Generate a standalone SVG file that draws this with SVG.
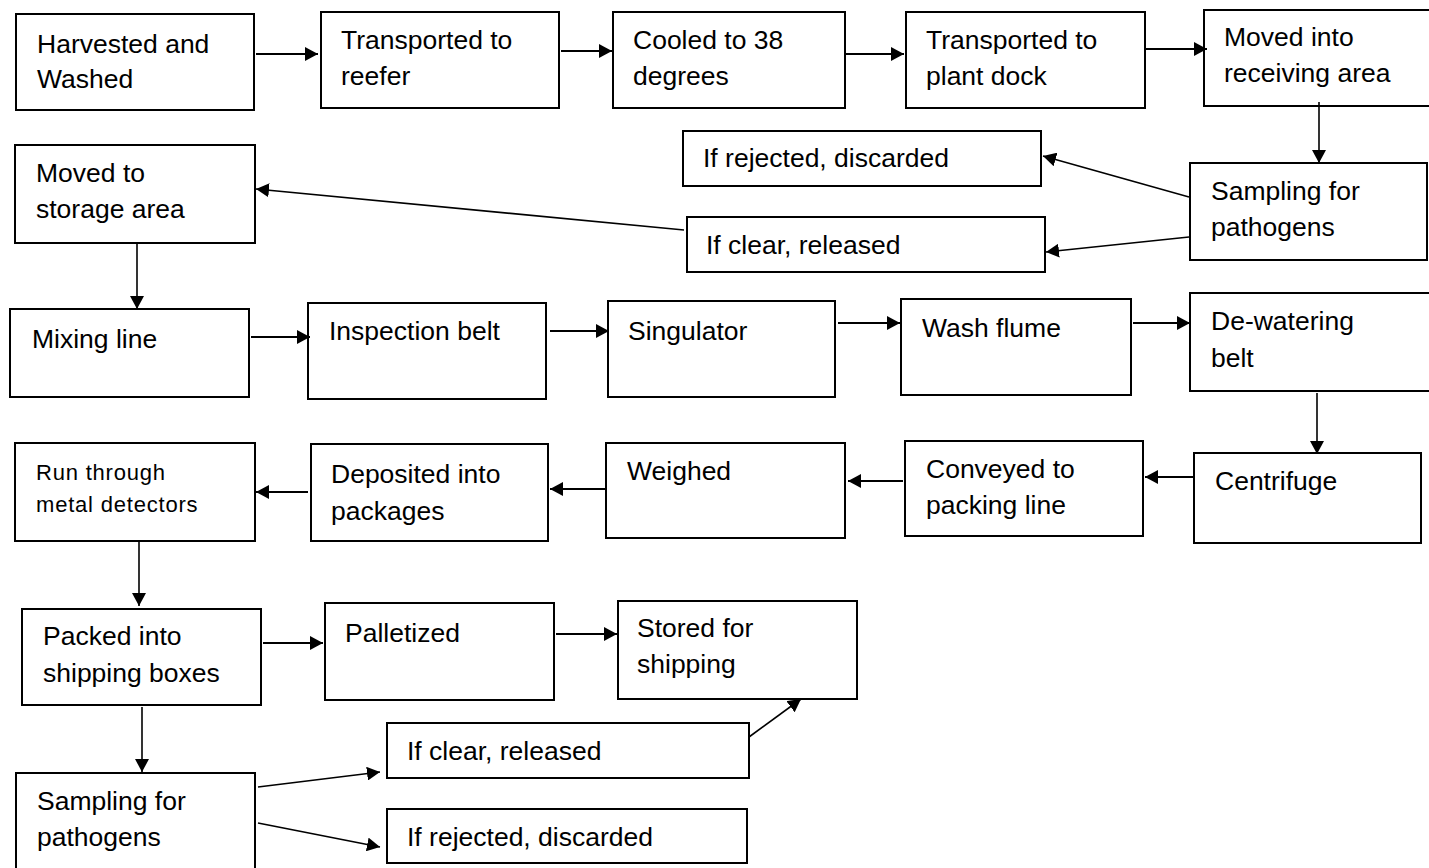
<svg xmlns="http://www.w3.org/2000/svg" width="1429" height="868" viewBox="0 0 1429 868">
<style>
.box{fill:#fff;stroke:#000;stroke-width:2}
.t{font-family:"Liberation Sans",Arial,sans-serif;font-size:26.5px;fill:#000}
.s{font-family:"Liberation Sans",Arial,sans-serif;font-size:22px;letter-spacing:0.8px;fill:#000}
.c{stroke:#000;stroke-width:2;fill:none;marker-end:url(#ah)}
.c2{stroke:#000;stroke-width:1.6;fill:none;marker-end:url(#ah)}
</style>
<defs>
<marker id="ah" markerUnits="userSpaceOnUse" markerWidth="14" markerHeight="14" refX="13" refY="7" orient="auto">
<path d="M0,0 L13,7 L0,14 z" fill="#000"/>
</marker>
</defs>
<rect width="1429" height="868" fill="#fff"/>

<g id="n1"><rect class="box" x="16" y="14" width="238" height="96"/><text class="t" x="37" y="53">Harvested and</text><text class="t" x="37" y="88">Washed</text></g>
<g id="n2"><rect class="box" x="321" y="12" width="238" height="96"/><text class="t" x="341" y="49">Transported to</text><text class="t" x="341" y="85">reefer</text></g>
<g id="n3"><rect class="box" x="613" y="12" width="232" height="96"/><text class="t" x="633" y="49">Cooled to 38</text><text class="t" x="633" y="85">degrees</text></g>
<g id="n4"><rect class="box" x="906" y="12" width="239" height="96"/><text class="t" x="926" y="49">Transported to</text><text class="t" x="926" y="85">plant dock</text></g>
<g id="n5"><rect class="box" x="1204" y="10" width="240" height="96"/><text class="t" x="1224" y="46">Moved into</text><text class="t" x="1224" y="82">receiving area</text></g>
<g id="n6"><rect class="box" x="1190" y="163" width="237" height="97"/><text class="t" x="1211" y="200">Sampling for</text><text class="t" x="1211" y="236">pathogens</text></g>
<g id="n7"><rect class="box" x="683" y="131" width="358" height="55"/><text class="t" x="703" y="167">If rejected, discarded</text></g>
<g id="n8"><rect class="box" x="687" y="217" width="358" height="55"/><text class="t" x="706" y="254">If clear, released</text></g>
<g id="n9"><rect class="box" x="15" y="145" width="240" height="98"/><text class="t" x="36" y="182">Moved to</text><text class="t" x="36" y="218">storage area</text></g>
<g id="n10"><rect class="box" x="10" y="309" width="239" height="88"/><text class="t" x="32" y="348">Mixing line</text></g>
<g id="n11"><rect class="box" x="308" y="303" width="238" height="96"/><text class="t" x="329" y="340">Inspection belt</text></g>
<g id="n12"><rect class="box" x="608" y="301" width="227" height="96"/><text class="t" x="628" y="340">Singulator</text></g>
<g id="n13"><rect class="box" x="901" y="299" width="230" height="96"/><text class="t" x="922" y="337">Wash flume</text></g>
<g id="n14"><rect class="box" x="1190" y="293" width="245" height="98"/><text class="t" x="1211" y="330">De-watering</text><text class="t" x="1211" y="367">belt</text></g>
<g id="n15"><rect class="box" x="1194" y="453" width="227" height="90"/><text class="t" x="1215" y="490">Centrifuge</text></g>
<g id="n16"><rect class="box" x="905" y="441" width="238" height="95"/><text class="t" x="926" y="478">Conveyed to</text><text class="t" x="926" y="514">packing line</text></g>
<g id="n17"><rect class="box" x="606" y="443" width="239" height="95"/><text class="t" x="627" y="480">Weighed</text></g>
<g id="n18"><rect class="box" x="311" y="444" width="237" height="97"/><text class="t" x="331" y="483">Deposited into</text><text class="t" x="331" y="520">packages</text></g>
<g id="n19"><rect class="box" x="15" y="443" width="240" height="98"/><text class="s" x="36" y="480">Run through</text><text class="s" x="36" y="512">metal detectors</text></g>
<g id="n20"><rect class="box" x="22" y="609" width="239" height="96"/><text class="t" x="43" y="645">Packed into</text><text class="t" x="43" y="682">shipping boxes</text></g>
<g id="n21"><rect class="box" x="325" y="603" width="229" height="97"/><text class="t" x="345" y="642">Palletized</text></g>
<g id="n22"><rect class="box" x="618" y="601" width="239" height="98"/><text class="t" x="637" y="637">Stored for</text><text class="t" x="637" y="673">shipping</text></g>
<g id="n23"><rect class="box" x="16" y="773" width="239" height="110"/><text class="t" x="37" y="810">Sampling for</text><text class="t" x="37" y="846">pathogens</text></g>
<g id="n24"><rect class="box" x="387" y="723" width="362" height="55"/><text class="t" x="407" y="760">If clear, released</text></g>
<g id="n25"><rect class="box" x="387" y="809" width="360" height="54"/><text class="t" x="407" y="846">If rejected, discarded</text></g>

<g id="connectors">
<line class="c" x1="256" y1="54" x2="318" y2="54"/>
<line class="c" x1="561" y1="51" x2="612" y2="51"/>
<line class="c" x1="846" y1="54" x2="904" y2="54"/>
<line class="c" x1="1146" y1="49" x2="1207" y2="49"/>
<line class="c2" x1="1319" y1="102" x2="1319" y2="163"/>
<line class="c2" x1="1189" y1="197" x2="1043" y2="156"/>
<line class="c2" x1="1189" y1="237" x2="1046" y2="252"/>
<line class="c2" x1="684" y1="230" x2="256" y2="189"/>
<line class="c2" x1="137" y1="243" x2="137" y2="309"/>
<line class="c" x1="251" y1="337" x2="310" y2="337"/>
<line class="c" x1="550" y1="331" x2="609" y2="331"/>
<line class="c" x1="838" y1="323" x2="900" y2="323"/>
<line class="c" x1="1133" y1="323" x2="1190" y2="323"/>
<line class="c2" x1="1317" y1="393" x2="1317" y2="454"/>
<line class="c" x1="1193" y1="477" x2="1145" y2="477"/>
<line class="c" x1="903" y1="481" x2="848" y2="481"/>
<line class="c" x1="605" y1="489" x2="550" y2="489"/>
<line class="c" x1="308" y1="492" x2="256" y2="492"/>
<line class="c2" x1="139" y1="541" x2="139" y2="606"/>
<line class="c" x1="263" y1="643" x2="323" y2="643"/>
<line class="c" x1="556" y1="634" x2="617" y2="634"/>
<line class="c2" x1="142" y1="707" x2="142" y2="772"/>
<line class="c2" x1="258" y1="787" x2="380" y2="772"/>
<line class="c2" x1="258" y1="823" x2="380" y2="847"/>
<line class="c2" x1="749" y1="737" x2="801" y2="699"/>
</g>
</svg>
